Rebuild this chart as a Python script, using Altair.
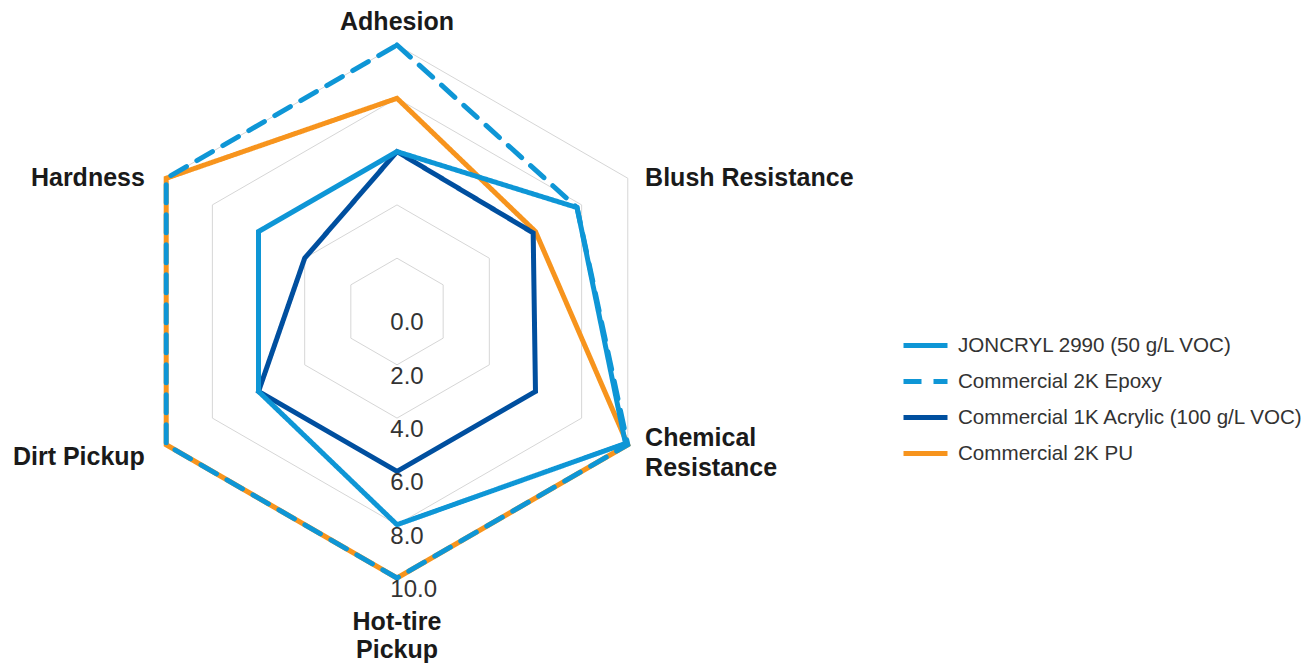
import altair as alt
import pandas as pd

# ---------------- data ----------------
categories = ["Adhesion", "Blush Resistance", "Chemical Resistance",
              "Hot-tire Pickup", "Dirt Pickup", "Hardness"]
category_labels = ["Adhesion", "Blush Resistance", "Chemical\nResistance",
                   "Hot-tire\nPickup", "Dirt Pickup", "Hardness"]
series_names = ["JONCRYL 2990 (50 g/L VOC)", "Commercial 2K Epoxy",
                "Commercial 1K Acrylic (100 g/L VOC)", "Commercial 2K PU"]
joncryl = [6.0, 7.8, 9.9, 8.0, 6.0, 6.0]
epoxy = [10.0, 7.8, 10.0, 10.0, 10.0, 10.0]
acrylic = [6.0, 5.9, 6.0, 6.0, 6.0, 4.0]
pu = [8.0, 6.0, 10.0, 10.0, 10.0, 10.0]
tick_values = [0, 2, 4, 6, 8, 10]
grid_levels = [2, 4, 6, 8, 10]

series_values = [joncryl, epoxy, acrylic, pu]
colors = ["#0E96D6", "#0E96D6", "#004F9F", "#F7941D"]
dashes = [[1, 0], [18, 12], [1, 0], [1, 0]]

FONT = "Liberation Sans"

# ---------------- tables ----------------
rows = []
for s, vals in zip(series_names, series_values):
    for k, (c, v) in enumerate(zip(categories, vals)):
        rows.append({"series": s, "category": c, "k": k, "value": v})
df = pd.DataFrame(rows)

grid_rows = [{"level": g, "k": k} for g in grid_levels for k in range(len(categories))]
df_grid = pd.DataFrame(grid_rows)

df_ticks = pd.DataFrame({"t": tick_values})
df_cats = pd.DataFrame({"k": list(range(len(categories))), "label": category_labels})

# ---------------- scales ----------------
PX = 26.65  # pixels per unit
W, H = 1299, 657
CX, CY = 389.0, 303.5
xs = alt.Scale(domain=[-CX / PX, (W - CX) / PX], nice=False, zero=False)
ys = alt.Scale(domain=[-(H - CY) / PX, CY / PX], nice=False, zero=False)

ANG = "datum.k * PI / 3"

# grid hexagons
grid = alt.Chart(df_grid).transform_calculate(
    x=f"datum.level * sin({ANG})", y=f"datum.level * cos({ANG})"
).mark_line(interpolate="linear-closed", color="#d6d6d6", strokeWidth=1).encode(
    x=alt.X("x:Q", scale=xs, axis=None),
    y=alt.Y("y:Q", scale=ys, axis=None),
    detail="level:N",
    order="k:Q",
)

LEG = dict(title=None, orient="none", legendX=893, legendY=313)
color_enc = alt.Color("series:N", scale=alt.Scale(domain=series_names, range=colors),
                      legend=alt.Legend(**LEG))
dash_enc = alt.StrokeDash("series:N", scale=alt.Scale(domain=series_names, range=dashes),
                          legend=alt.Legend(**LEG))

base = alt.Chart(df).transform_calculate(
    x=f"datum.value * sin({ANG})", y=f"datum.value * cos({ANG})"
)

draw_order = ["Commercial 2K PU", "Commercial 1K Acrylic (100 g/L VOC)",
              "Commercial 2K Epoxy", "JONCRYL 2990 (50 g/L VOC)"]
line_layers = []
for s in draw_order:
    cap = "round" if s == "Commercial 2K Epoxy" else "butt"
    line_layers.append(
        base.transform_filter(alt.datum.series == s)
        .mark_line(interpolate="linear-closed", strokeWidth=5, strokeCap=cap)
        .encode(
            x=alt.X("x:Q", scale=xs, axis=None),
            y=alt.Y("y:Q", scale=ys, axis=None),
            color=color_enc,
            strokeDash=dash_enc,
            order="k:Q",
        )
    )

# tick labels along bottom axis
ticks = alt.Chart(df_ticks).transform_calculate(
    x="-0.25", y="-(datum.t + 0.45)", lab="format(datum.t, '.1f')"
).mark_text(align="left", baseline="middle", fontSize=24, font=FONT, color="#333333").encode(
    x=alt.X("x:Q", scale=xs, axis=None),
    y=alt.Y("y:Q", scale=ys, axis=None),
    text="lab:N",
)

# category labels (y is the first line's centre)
cat_base = alt.Chart(df_cats).transform_calculate(
    s=f"sin({ANG})", c=f"cos({ANG})"
).transform_calculate(
    x="abs(datum.s) < 0.1 ? 0 : 10 * datum.s + (datum.s > 0 ? 0.65 : -0.8)",
    y="datum.c > 0.9 ? 10.86 : (datum.c < -0.9 ? -11.65 : "
      "10 * datum.c + (datum.c < 0 ? (datum.s > 0 ? 0.25 : -0.45) : 0))",
)


def cat_layer(cond, align, lh=30):
    return cat_base.transform_filter(cond).mark_text(
        align=align, baseline="middle", fontSize=25, fontWeight="bold", font=FONT,
        color="#1a1a1a", lineBreak="\n", lineHeight=lh
    ).encode(
        x=alt.X("x:Q", scale=xs, axis=None),
        y=alt.Y("y:Q", scale=ys, axis=None),
        text="label:N",
    )


cats_c = cat_layer("abs(datum.s) < 0.1", "center", 28)
cats_r = cat_layer("datum.s > 0.1", "left")
cats_l = cat_layer("datum.s < -0.1", "right")

chart = alt.layer(grid, *line_layers, ticks, cats_c, cats_r, cats_l).properties(
    width=W, height=H, autosize=alt.AutoSizeParams(type="none"), padding=0
).configure_view(stroke=None).configure_legend(
    symbolType="stroke", symbolSize=1936, symbolStrokeWidth=5,
    labelFontSize=20.6, labelFont=FONT, labelColor="#333333", labelOffset=8,
    rowPadding=0, padding=0, labelLimit=500
)

chart.save("out.html", embed_options={"renderer": "svg", "actions": False})
